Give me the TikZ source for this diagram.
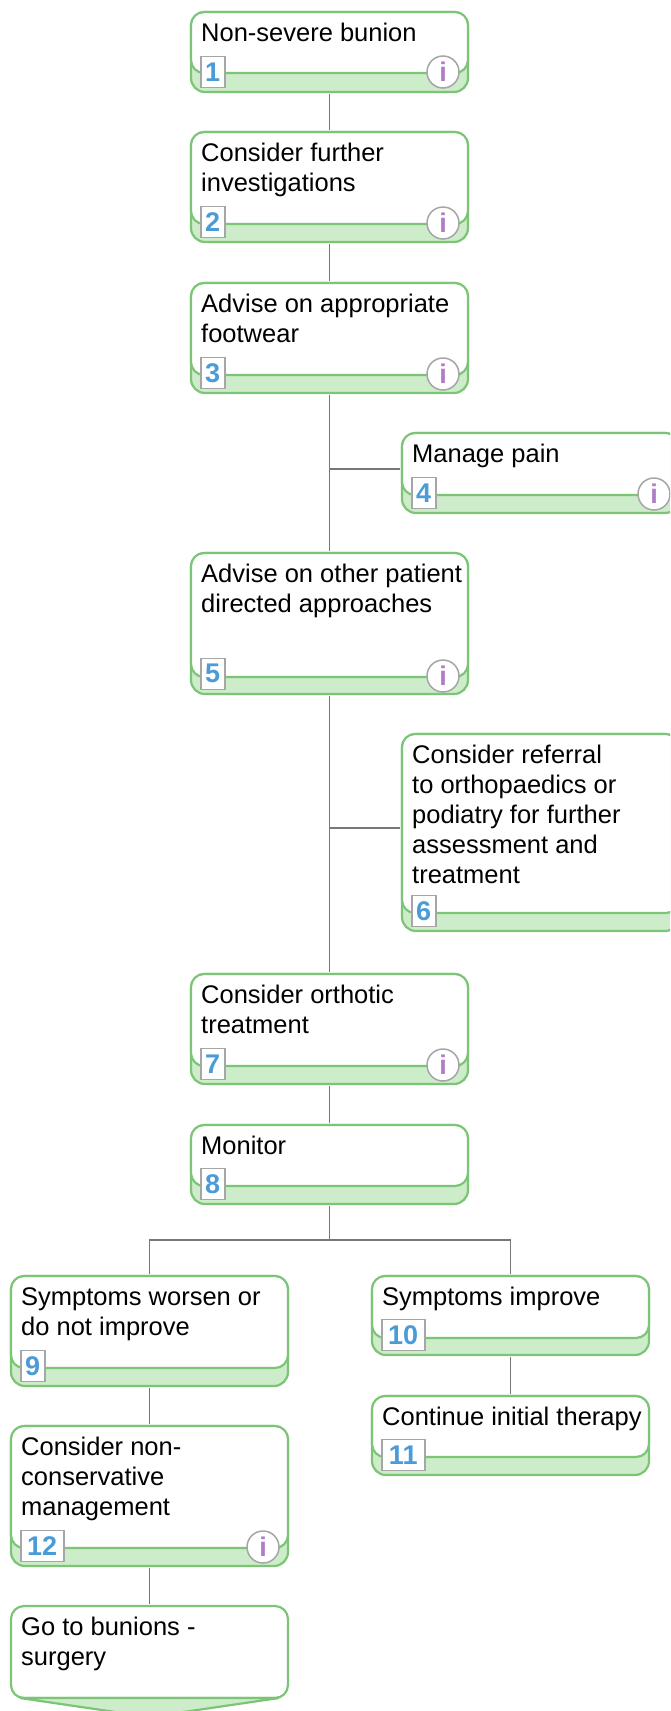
\documentclass[tikz,border=0pt]{standalone}
\usepackage{fontspec}
\setmainfont{Liberation Sans}
\definecolor{bandline}{HTML}{7DC576}
\definecolor{bandfill}{HTML}{CDECC9}
\definecolor{numblue}{HTML}{4A9BD8}
\definecolor{infopurple}{HTML}{B07CC6}
\definecolor{conn}{HTML}{777777}
\tikzstyle{band} = [draw=bandline, fill=bandfill, line width=2.2pt, rounded corners=14pt, anchor=north west, inner sep=0pt, outer sep=2pt]
\tikzstyle{body} = [draw=bandline, fill=white, line width=2.2pt, rounded corners=13pt, anchor=north west, inner sep=0pt, outer sep=2pt]
\tikzstyle{txt} = [anchor=north west, inner sep=0pt, align=left, font=\fontsize{25.5}{30}\selectfont, text=black]
\tikzstyle{num} = [draw=gray!70, fill=white, line width=1.5pt, anchor=south west, inner sep=0pt, minimum height=31pt, font=\fontsize{27}{27}\selectfont\bfseries, text=numblue]
\tikzstyle{info} = [draw=gray!70, fill=white, line width=1.5pt, circle, inner sep=0pt, minimum size=32pt, font=\fontsize{27}{27}\selectfont\bfseries, text=infopurple]
\tikzstyle{l} = [draw=conn, line width=1.5pt]

\begin{document}
\begin{tikzpicture}[x=1pt, y=-1pt]
    \clip (0,0) rectangle (670,1711);
    \foreach \n/\x/\y/\w/\h/\f/\m/\txt in {
        1/189/10/277/80/19/24/{Non-severe bunion},
        2/189/130/277/110/18/24/{Consider further\\investigations},
        3/189/281/277/110/18/24/{Advise on appropriate\\footwear},
        4/400/431/277/80/18/24/{Manage pain},
        5/189/551/277/141/17/24/{Advise on other patient\\directed approaches},
        6/400/732/277/197/18/24/{Consider referral\\to orthopaedics or\\podiatry for further\\assessment and\\treatment},
        7/189/972/277/110/18/24/{Consider orthotic\\treatment},
        8/189/1123/277/79/18/24/{Monitor},
        9/9/1274/277/110/18/24/{Symptoms worsen or\\do not improve},
        10/370/1274/277/79/17/43/{Symptoms improve},
        11/370/1394/277/79/18/43/{Continue initial therapy},
        12/9/1424/277/140/18/43/{Consider non-\\conservative\\management}}
    {
        \node[band, minimum width=\w, minimum height=\h] (b\n) at (\x,\y) {};
        \node[body, minimum width=\w, minimum height=\h-\f] (a\n) at (\x,\y) {};
        \node[txt] (t\n) at ([xshift=12pt, yshift=-13pt]a\n.north west) {\txt};
        \node[num, minimum width=\m] (n\n) at ([xshift=11pt, yshift=6pt]b\n.south west) {\n};
    }
    \foreach \n in {1,2,3,4,5,7,12}
    \node[info] (i\n) at ([xshift=-27pt, yshift=3pt]a\n.south east) {i};

    % last box points on to the next page
    \node[body, minimum width=277, minimum height=92] (a13) at (9,1604) {};
    \node[txt] (t13) at ([xshift=12pt, yshift=-13pt]a13.north west) {Go to bunions -\\surgery};
    \draw[draw=bandline, fill=bandfill, line width=2.2pt] ([xshift=11pt, yshift=2pt]a13.south west) -- ([yshift=-17pt]a13.south) -- ([xshift=-11pt, yshift=2pt]a13.south east) -- cycle;

    \coordinate (j4) at (329.5,469);
    \coordinate (j6) at (329.5,828);
    \coordinate (j8) at (329.5,1240);
    \foreach \f/\t in {b1/a2, b2/a3, b3/a5, b5/a7, b7/a8, b9/a12, b10/a11, b12/a13}
    \draw[l] (\f.south) -- (\t.north);
    \draw[l] (j4) -- (j4 -| b4.west);
    \draw[l] (j6) -- (j6 -| b6.west);
    \draw[l] (b8.south) -- (j8);
    \draw[l] (j8) -| (a9.north);
    \draw[l] (j8) -| (a10.north);
\end{tikzpicture}
\end{document}
